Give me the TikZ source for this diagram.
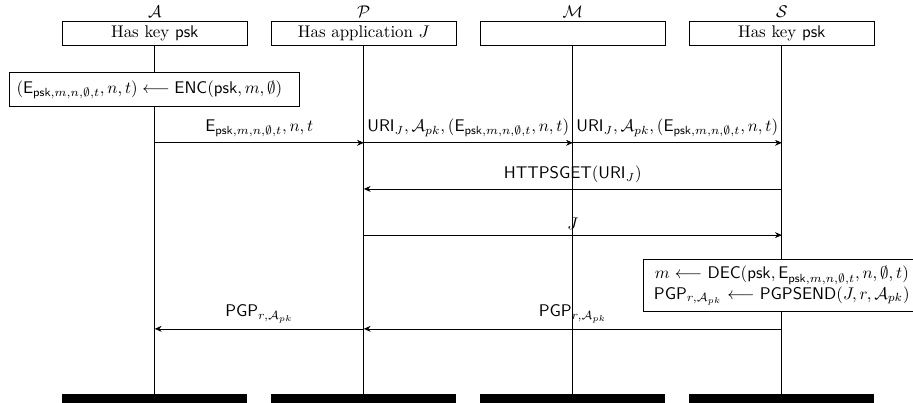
\documentclass[tikz,border=0pt]{standalone}
\usepackage{amsmath, amssymb}
\usetikzlibrary{positioning, arrows.meta}

\begin{document}
\begin{tikzpicture}[
node distance=0.483cm,
actor/.style={draw, minimum width=3.85cm, minimum height=0.5cm, inner sep=0pt},
title/.style={inner sep=2pt},
bar/.style={fill=black, minimum width=3.85cm, minimum height=0.4cm, inner sep=0pt},
calc/.style={draw, fill=white, inner xsep=4pt, inner ysep=4.5pt},
msg/.style={-{Stealth[length=4pt,width=3.5pt]}}
]
\useasboundingbox (0,0) rectangle (18.99,-8.38);

% Actors
\node[actor, label={[title]above:$\mathcal{A}$}] (hA) at (3.22,-0.69) {Has key $\mathsf{psk}$};
\node[actor, label={[title]above:$\mathcal{P}$}, right=of hA] (hP) {Has application $J$};
\node[actor, label={[title]above:$\mathcal{M}$}, right=of hP] (hM) {};
\node[actor, label={[title]above:$\mathcal{S}$}, right=of hM] (hS) {Has key $\mathsf{psk}$};

% Bottom bars and lifelines
\foreach \who in {A,P,M,S}{
  \node[bar, below=7.24cm of h\who] (b\who) {};
  \draw (h\who) -- (b\who);
  \foreach \row/\y in {1/-2.97,2/-3.93,3/-4.89,4/-6.84}{
    \coordinate (\who\row) at (h\who.center |- 0,\y);
  }
}

% Computations
\node[calc, text width=5.75cm, align=left, minimum height=0.67cm, below=0.56cm of hA] (enc)
  {$(\mathsf{E}_{\mathsf{psk},m,n,\emptyset,t}, n, t) \longleftarrow \mathsf{ENC}(\mathsf{psk}, m, \emptyset)$};
\node[calc, text width=5.5cm, align=center, minimum height=1.08cm, inner ysep=3pt, below=4.45cm of hS] (dec)
  {$m \longleftarrow \mathsf{DEC}(\mathsf{psk}, \mathsf{E}_{\mathsf{psk},m,n,\emptyset,t}, n, \emptyset, t)$\\
   $\mathsf{PGP}_{r,\mathcal{A}_{pk}} \longleftarrow \mathsf{PGPSEND}(J, r, \mathcal{A}_{pk})$};

% Messages
\draw[msg] (A1) -- node[above] {$\mathsf{E}_{\mathsf{psk},m,n,\emptyset,t}, n, t$} (P1);
\draw[msg] (P1) -- node[above] {$\mathsf{URI}_J, \mathcal{A}_{pk}, (\mathsf{E}_{\mathsf{psk},m,n,\emptyset,t}, n, t)$} (M1);
\draw[msg] (M1) -- node[above] {$\mathsf{URI}_J, \mathcal{A}_{pk}, (\mathsf{E}_{\mathsf{psk},m,n,\emptyset,t}, n, t)$} (S1);
\draw[msg] (S2) -- node[above] {$\mathsf{HTTPSGET}(\mathsf{URI}_J)$} (P2);
\draw[msg] (P3) -- node[above] {$J$} (S3);
\draw[msg] (S4) -- node[above] {$\mathsf{PGP}_{r,\mathcal{A}_{pk}}$} (P4);
\draw[msg] (P4) -- node[above] {$\mathsf{PGP}_{r,\mathcal{A}_{pk}}$} (A4);
\end{tikzpicture}
\end{document}
